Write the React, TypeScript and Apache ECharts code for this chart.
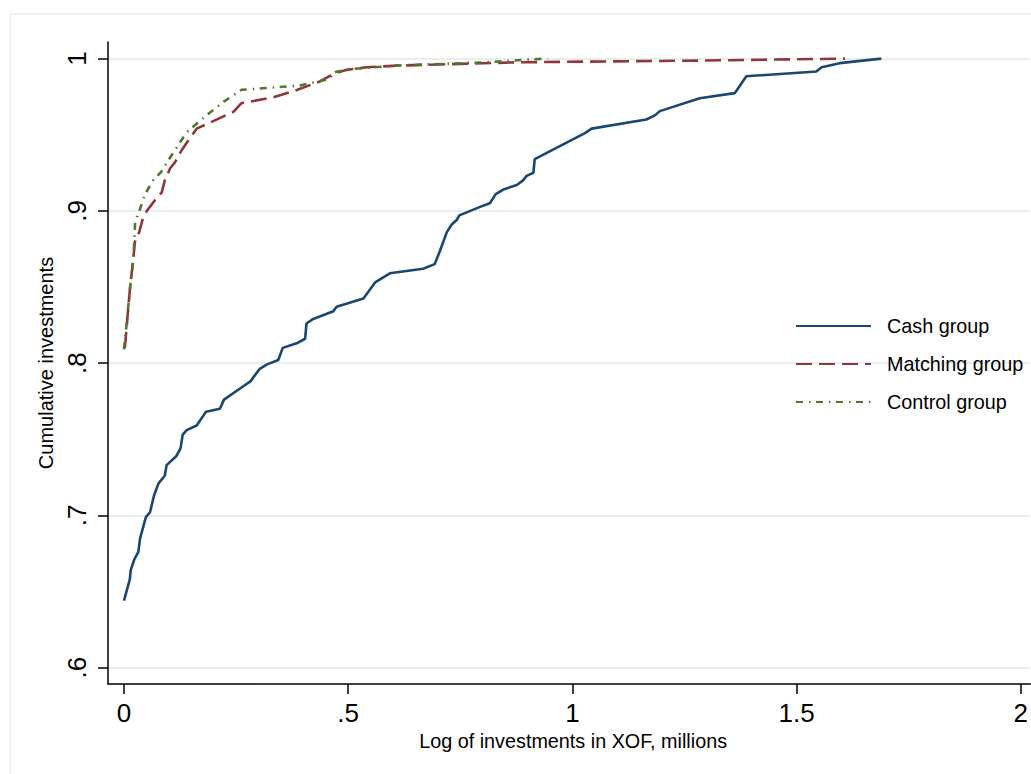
import React, { useEffect, useRef } from "react";
import * as echarts from "echarts";

const xTicks = [0, 0.5, 1, 1.5, 2];
const yTicks = [0.6, 0.7, 0.8, 0.9, 1];
const xTickLabels: Record<string, string> = { "0": "0", "0.5": ".5", "1": "1", "1.5": "1.5", "2": "2" };
const yTickLabels: Record<string, string> = { "0.6": ".6", "0.7": ".7", "0.8": ".8", "0.9": ".9", "1": "1" };

const seriesNames = ["Cash group", "Matching group", "Control group"];

const cashX = [0, 0.013, 0.015, 0.023, 0.032, 0.036, 0.049, 0.058, 0.067, 0.077, 0.091, 0.095, 0.117, 0.126, 0.131, 0.14, 0.162, 0.183, 0.214, 0.223, 0.262, 0.282, 0.302, 0.318, 0.344, 0.354, 0.385, 0.404, 0.407, 0.422, 0.467, 0.474, 0.534, 0.56, 0.593, 0.667, 0.693, 0.705, 0.72, 0.731, 0.742, 0.748, 0.794, 0.816, 0.829, 0.846, 0.876, 0.89, 0.898, 0.913, 0.916, 1.028, 1.043, 1.165, 1.184, 1.195, 1.284, 1.362, 1.388, 1.544, 1.556, 1.596, 1.689];
const cashY = [0.644, 0.658, 0.664, 0.671, 0.676, 0.685, 0.699, 0.702, 0.713, 0.721, 0.726, 0.733, 0.739, 0.744, 0.753, 0.756, 0.759, 0.768, 0.77, 0.776, 0.784, 0.788, 0.796, 0.799, 0.802, 0.81, 0.813, 0.816, 0.826, 0.829, 0.834, 0.837, 0.8425, 0.853, 0.859, 0.862, 0.865, 0.874, 0.886, 0.891, 0.894, 0.897, 0.9026, 0.905, 0.911, 0.914, 0.917, 0.92, 0.923, 0.925, 0.934, 0.951, 0.954, 0.96, 0.9627, 0.9655, 0.974, 0.9773, 0.9884, 0.9915, 0.9943, 0.997, 1.0];

const matchX = [0.002, 0.013, 0.019, 0.025, 0.034, 0.042, 0.051, 0.069, 0.084, 0.091, 0.103, 0.114, 0.129, 0.143, 0.162, 0.192, 0.244, 0.262, 0.333, 0.378, 0.437, 0.467, 0.497, 0.541, 0.608, 0.883, 1.284, 1.608];
const matchY = [0.81, 0.848, 0.864, 0.881, 0.886, 0.895, 0.9, 0.907, 0.912, 0.92, 0.928, 0.932, 0.94, 0.946, 0.954, 0.958, 0.965, 0.9707, 0.9746, 0.9786, 0.985, 0.99, 0.9926, 0.9943, 0.9954, 0.9976, 0.9987, 1.0];

const controlX = [0, 0.006, 0.013, 0.021, 0.025, 0.032, 0.039, 0.047, 0.065, 0.084, 0.103, 0.14, 0.184, 0.221, 0.262, 0.288, 0.392, 0.459, 0.467, 0.511, 0.608, 0.809, 0.845, 0.898, 0.945];
const controlY = [0.809, 0.826, 0.848, 0.868, 0.893, 0.898, 0.904, 0.911, 0.92, 0.926, 0.935, 0.9517, 0.9627, 0.9714, 0.9795, 0.98, 0.9823, 0.9867, 0.991, 0.9932, 0.9954, 0.9976, 0.9982, 0.9993, 1.0];

const zip = (xs: number[], ys: number[]) => xs.map((x, i) => [x, ys[i]]);

const FONT = "'Liberation Sans', Arial, sans-serif";

export default function App() {
  const ref = useRef<HTMLDivElement>(null);
  useEffect(() => {
    if (!ref.current) return;
    const chart = echarts.init(ref.current, undefined, { renderer: "svg" });
    const fmt = (map: Record<string, string>) => (v: number) => {
      const k = String(Math.round(v * 10) / 10);
      return map[k] ?? k;
    };
    chart.setOption({
      animation: false,
      backgroundColor: "#ffffff",
      graphic: [
        {
          type: "rect",
          shape: { x: 10, y: 14, width: 1200, height: 900 },
          style: { fill: "none", stroke: "#e6eeee", lineWidth: 1.5 },
          silent: true,
          z: -10,
        },
      ],
      grid: { left: 108, top: 42, right: 0, bottom: 90, containLabel: false },
      legend: {
        orient: "vertical",
        left: 795,
        top: 316,
        itemWidth: 75,
        itemHeight: 14,
        itemGap: 18,
        padding: 0,
        data: seriesNames,
        itemStyle: { opacity: 0, color: "rgba(0,0,0,0)", borderWidth: 0 },
        textStyle: { fontFamily: FONT, fontSize: 19.8, color: "#000", padding: [0, 0, 0, 11] },
      },
      xAxis: {
        type: "value",
        min: -0.03565,
        max: 2.02117,
        name: "Log of investments in XOF, millions",
        nameLocation: "middle",
        nameGap: 46,
        nameTextStyle: { fontFamily: FONT, fontSize: 19.8, color: "#000", padding: [0, 0, 0, 8] },
        axisLine: { show: true, onZero: false, lineStyle: { color: "#000", width: 1.5 } },
        axisTick: { show: true, length: 10, customValues: xTicks, lineStyle: { color: "#000", width: 1.5 } },
        axisLabel: { customValues: xTicks, formatter: fmt(xTickLabels), fontFamily: FONT, fontSize: 26, color: "#000", margin: 16 },
        splitLine: { show: false },
      },
      yAxis: {
        type: "value",
        min: 0.58923,
        max: 1.0109,
        name: "Cumulative investments",
        nameLocation: "middle",
        nameGap: 43,
        nameRotate: 90,
        nameTextStyle: { fontFamily: FONT, fontSize: 20, color: "#000" },
        axisLine: { show: true, onZero: false, lineStyle: { color: "#000", width: 1.5 } },
        axisTick: { show: true, length: 10, customValues: yTicks, lineStyle: { color: "#000", width: 1.5 } },
        axisLabel: { customValues: yTicks, formatter: fmt(yTickLabels), rotate: 90, fontFamily: FONT, fontSize: 26, color: "#000", margin: 18 },
        splitLine: { show: true, lineStyle: { color: "#e6eef0", width: 2 } },
      },
      series: [
        {
          name: seriesNames[0],
          type: "line",
          data: zip(cashX, cashY),
          symbol: "none",
          lineStyle: { color: "#1a476f", width: 2.6, type: "solid" },
          itemStyle: { color: "#1a476f" },
        },
        {
          name: seriesNames[1],
          type: "line",
          data: zip(matchX, matchY),
          symbol: "none",
          lineStyle: { color: "#90353b", width: 2.6, type: [16, 7] },
          itemStyle: { color: "#90353b" },
        },
        {
          name: seriesNames[2],
          type: "line",
          data: zip(controlX, controlY),
          symbol: "none",
          lineStyle: { color: "#55752f", width: 2.6, type: [7, 6, 1.5, 5.5] },
          itemStyle: { color: "#55752f" },
        },
      ],
    });
    return () => chart.dispose();
  }, []);
  return <div ref={ref} style={{ position: "fixed", left: 0, top: 0, width: 1031, height: 774 }} />;
}
